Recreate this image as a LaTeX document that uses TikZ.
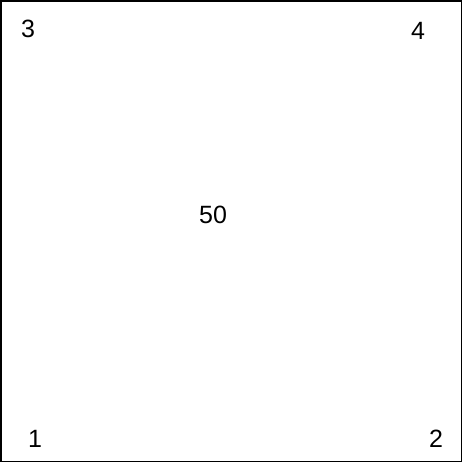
\documentclass[tikz,border=0pt]{standalone}
\usepackage{fontspec}
\setmainfont{Liberation Sans}
\begin{document}
\begin{tikzpicture}[x=1pt,y=-1pt,
  lbl/.style={inner sep=0pt,font=\fontsize{25}{25}\selectfont}]
\useasboundingbox (0,0) rectangle (464,465);
\draw[line width=1.6pt] (1,1) rectangle (461.5,461.5);
\node[lbl] (n3) at (28,28.5) {3};
\node[lbl] (n4) at (418,31) {4};
\node[lbl] (n50) at (213,214.5) {50};
\node[lbl] (n1) at (35,439) {1};
\node[lbl] (n2) at (436,439) {2};
\end{tikzpicture}
\end{document}
